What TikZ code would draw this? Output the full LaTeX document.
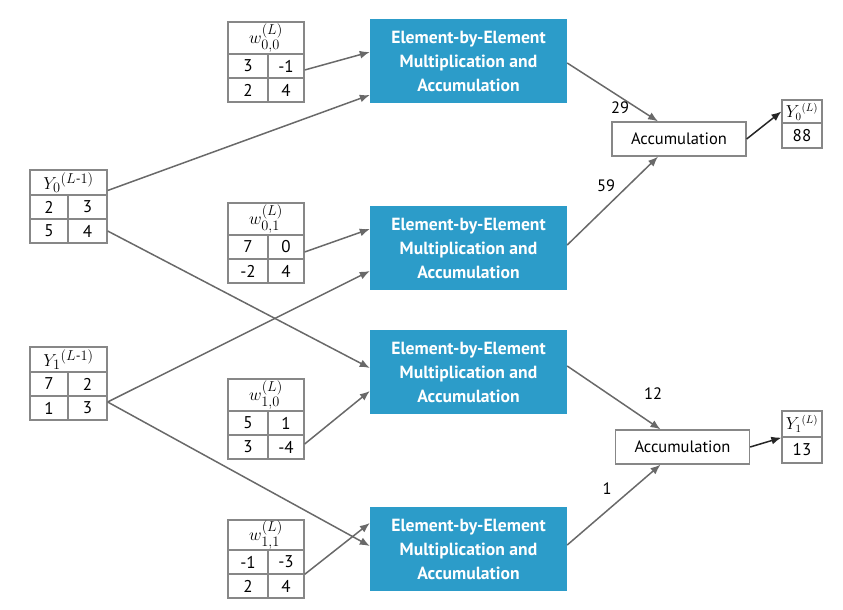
\documentclass[tikz,border=0pt]{standalone}
\usepackage{amsmath}
\usepackage{fontspec}
\setmainfont{PT Sans}
\usetikzlibrary{arrows.meta,calc}
\definecolor{blu}{RGB}{44,156,201}
\definecolor{edgec}{RGB}{105,105,105}
\definecolor{cellc}{RGB}{135,135,135}
\newcommand\cellbox[6]{\node[cell,minimum width={(#4-#2)*1pt},minimum height={(#5-#3)*1pt}] (#1) at ({(#2+#4)/2},{(#3+#5)/2}) {#6};}
\begin{document}
\begin{tikzpicture}[x=1pt,y=-1pt,
  cell/.style={draw=cellc,line width=1.3pt,inner sep=0pt,font=\fontsize{17}{19}\selectfont},
  mult/.style={fill=blu,text=white,inner sep=0pt,minimum width=197pt,minimum height=84pt,align=center,font=\fontsize{17.6}{24}\selectfont\bfseries},
  accb/.style={draw=cellc,line width=1.3pt,inner sep=0pt,minimum width=134pt,minimum height=34pt,font=\fontsize{16.5}{18}\selectfont},
  conn/.style={draw=edgec,line width=1.5pt,-{Latex[length=10pt,width=8pt]}},
  outc/.style={draw=black!85,line width=1.5pt,-{Latex[length=10pt,width=8pt]}},
  lab/.style={font=\fontsize{16.5}{18}\selectfont,inner sep=0pt}]
\useasboundingbox (0,0) rectangle (843,610);
% input matrices
\cellbox{Y0h}{30}{170}{107}{195}{\fontsize{19}{21}\selectfont$Y_0{}^{(L\text{-}1)}$}
\cellbox{Y0a}{30}{195}{68}{219}{2}
\cellbox{Y0b}{68}{195}{107}{219}{3}
\cellbox{Y0c}{30}{219}{68}{243}{5}
\cellbox{Y0d}{68}{219}{107}{243}{4}
\cellbox{Y1h}{30}{347}{107}{372}{\fontsize{19}{21}\selectfont$Y_1{}^{(L\text{-}1)}$}
\cellbox{Y1a}{30}{372}{68}{396}{7}
\cellbox{Y1b}{68}{372}{107}{396}{2}
\cellbox{Y1c}{30}{396}{68}{420}{1}
\cellbox{Y1d}{68}{396}{107}{420}{3}
% weights
\cellbox{W00h}{228}{22}{304}{54}{\fontsize{19}{21}\selectfont$w^{(L)}_{0,0}$}
\cellbox{W00a}{228}{54}{268}{78}{3}
\cellbox{W00b}{268}{54}{304}{78}{-1}
\cellbox{W00c}{228}{78}{268}{102}{2}
\cellbox{W00d}{268}{78}{304}{102}{4}
\cellbox{W01h}{228}{203}{304}{235}{\fontsize{19}{21}\selectfont$w^{(L)}_{0,1}$}
\cellbox{W01a}{228}{235}{268}{259}{7}
\cellbox{W01b}{268}{235}{304}{259}{0}
\cellbox{W01c}{228}{259}{268}{283}{-2}
\cellbox{W01d}{268}{259}{304}{283}{4}
\cellbox{W10h}{228}{379}{304}{411}{\fontsize{19}{21}\selectfont$w^{(L)}_{1,0}$}
\cellbox{W10a}{228}{411}{268}{435}{5}
\cellbox{W10b}{268}{411}{304}{435}{1}
\cellbox{W10c}{228}{435}{268}{459}{3}
\cellbox{W10d}{268}{435}{304}{459}{-4}
\cellbox{W11h}{228}{520}{304}{550}{\fontsize{19}{21}\selectfont$w^{(L)}_{1,1}$}
\cellbox{W11a}{228}{550}{268}{574}{-1}
\cellbox{W11b}{268}{550}{304}{574}{-3}
\cellbox{W11c}{228}{574}{268}{598}{2}
\cellbox{W11d}{268}{574}{304}{598}{4}
% multiplication boxes
\node[mult] (M1) at (468.5,61) {Element-by-Element\\Multiplication and\\Accumulation};
\node[mult] (M2) at (468.5,248) {Element-by-Element\\Multiplication and\\Accumulation};
\node[mult] (M3) at (468.5,372) {Element-by-Element\\Multiplication and\\Accumulation};
\node[mult] (M4) at (468.5,549) {Element-by-Element\\Multiplication and\\Accumulation};
% accumulation
\node[accb] (A1) at (679,139) {Accumulation};
\node[accb] (A2) at (682.5,447) {Accumulation};
% outputs
\cellbox{O0h}{782}{100}{822}{123}{\fontsize{16}{18}\selectfont$Y_0{}^{(L)}$}
\cellbox{O0v}{782}{123}{822}{148}{88}
\cellbox{O1h}{782}{411}{822}{437}{\fontsize{16}{18}\selectfont$Y_1{}^{(L)}$}
\cellbox{O1v}{782}{437}{822}{463}{13}
% connectors
\draw[conn] ([yshift=-4pt]W00b.east) -- ([yshift=9pt]M1.west);
\draw[conn] ([yshift=-8pt]Y0h.east) -- ([yshift=-34pt]M1.west);
\draw[conn] (Y0d.east) -- ([yshift=4pt]M3.west);
\draw[conn] ([yshift=-5pt]W01b.east) -- ([yshift=19pt]M2.west);
\draw[conn] ([yshift=6pt]Y1d.east) -- ([yshift=-23pt]M2.west);
\draw[conn] ([yshift=6pt]Y1d.east) -- ([yshift=3pt]M4.west);
\draw[conn] ([yshift=3pt]W10d.east) -- ([yshift=-19pt]M3.west);
\draw[conn] ([yshift=-1pt]W11d.north east) -- ([yshift=26pt]M4.west);
\draw[conn] ([yshift=-2pt]M1.east) -- ([xshift=-21pt]A1.north);
\draw[conn] ([yshift=3pt]M2.east) -- ([xshift=-21pt]A1.south);
\draw[conn] ([yshift=6pt]M3.east) -- ([xshift=-22pt]A2.north);
\draw[conn] ([yshift=4pt]M4.east) -- ([xshift=-22pt]A2.south);
\draw[outc] (A1.east) -- (O0h.west);
\draw[outc] (A2.east) -- (O1h.south west);
% labels
\node[lab] (l29) at (620,108) {29};
\node[lab] (l59) at (606,186) {59};
\node[lab] (l12) at (653,394) {12};
\node[lab] (l1) at (607,489) {1};
\end{tikzpicture}
\end{document}
